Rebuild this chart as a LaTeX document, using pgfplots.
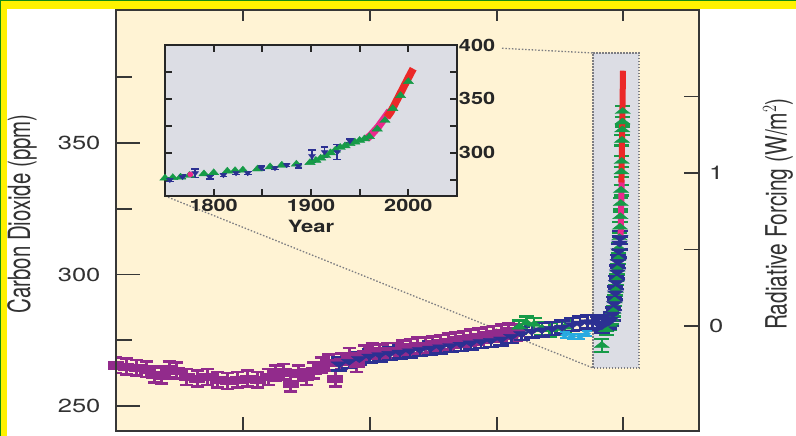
\documentclass[border=0pt]{standalone}
\usepackage{pgfplots}
\pgfplotsset{compat=1.18}
\usepackage{fontspec}
\setmainfont{TeX Gyre Heros}
\definecolor{beige}{RGB}{255,243,212}
\definecolor{insetgrey}{RGB}{220,221,228}
\definecolor{dotgrey}{RGB}{125,125,130}
\definecolor{frgreen}{RGB}{20,140,20}
\definecolor{axgrey}{RGB}{55,55,55}
\definecolor{txtgrey}{RGB}{50,50,50}
\definecolor{cpurple}{RGB}{146,43,140}
\definecolor{cblue}{RGB}{44,48,146}
\definecolor{cgreen}{RGB}{22,155,72}
\definecolor{ccyan}{RGB}{40,170,225}
\definecolor{cred}{RGB}{235,40,40}
\definecolor{cmag}{RGB}{236,40,140}

\pgfplotstableread{
x y e
10000 265.5 3
9800 265 3
9600 264.5 3
9400 264 3
9250 262 3
9100 261.5 3
8950 264 3
8800 263.5 3
8600 261 3
8400 260.5 3
8200 261 3
8000 260 3
7800 259.5 3
7600 260 3
7400 260.5 3
7200 260 3
7000 261 3
6850 262.5 3
6700 263 3
6550 258.5 3
6400 262.5 3
6250 261 3
6100 263.5 3
5950 265.5 3
5800 266.5 3
5680 260.5 3
5550 267 3
5400 269 3
5250 266 3
5100 270 3
4950 271 3
4800 270.5 3
4650 271 3
4500 271 3
4350 272 3
4200 272.5 3
4050 273 3
3900 273 3
3750 273.5 3
3600 274 3
3450 274.5 3
3300 275 3
3150 275.5 3
3000 276 3
2850 276.5 3
2700 277 3
2550 277.5 3
2400 278 3
2250 278.5 3
2100 278 3
}\purpledata

\pgfplotstableread{
x y e
5600 266 2.5
5400 267 2.5
5200 268 2.5
5000 269 2.5
4800 269.5 2.5
4600 270 2.5
4400 270.5 2.5
4200 271 2.5
4000 271.5 2.5
3800 272 2.5
3600 272.5 2.5
3400 273 2.5
3200 273.5 2.5
3000 274 2.5
2800 274.5 2.5
2600 275 2.5
2400 275.5 2.5
2200 276.5 2.5
2000 277.5 2.5
1800 278.5 2.5
1600 279 2.5
1400 279.5 2.5
1200 280 2.5
1000 281 2.5
850 281.5 2.5
700 282 2.5
600 282 2.5
500 281.5 2.5
420 280.5 2.5
340 281.5 2.5
280 282 2.5
240 283 2.5
200 285 2.5
170 289 2.5
150 293 2.5
130 297 2.5
112 301 2.5
96 305 2.5
82 309 2.5
68 312 2.5
55 314 2.5
}\bluedata

\pgfplotstableread{
x y e
2050 280 2.5
1900 281.5 2.5
1750 281 2.5
1600 279.5 2.5
1450 279 2.5
1300 279.5 2.5
1150 280 2.5
420 273 2.5
330 279 2
260 281 2
220 283 2
190 286 2
165 290 2
145 294 2
125 298 2
110 302 2
95 306 2
82 310 2
70 314 2
60 318 2
52 322 2
45 327 2
38 332 2
30 339 2
25 343 2
20 351 2
15 355 2
10 358 2
6 362 2
}\greendata

\pgfplotstableread{
x y e
1150 277 1
1000 276.5 1
850 276.5 1
720 277.5 1
}\cyandata

\pgfplotstableread{
x y e
1755 275 1.5
1768 277.7 1.5
1781 281.3 4
1796 277.7 2
1810 279.5 1.5
1823 281.3 1.5
1835 281.3 1.5
1849 286 2
1863 286 1.5
1875 288.8 1.5
1887 287.9 2
1901 297 5.5
1914 300.8 4.6
1927 300.8 7
1940 311 2
}\insetblue

\pgfplotstableread{
x y
1750 276.5
1758 277
1766 277.5
1775 279
1790 280.5
1800 281.5
1814 283
1822 283.5
1830 284
1845 285
1858 287
1870 288.5
1885 289.5
1899 291
1905 293
1910 295
1915 297.5
1920 300
1925 302.5
1930 305
1935 306.5
1940 308.5
1945 310
1950 311.5
1955 313
1960 315
1968 322
1976 330
1984 341
1992 353
2000 366
}\insetgreen

\begin{document}
\begin{tikzpicture}[x=1bp,y=1bp]
\useasboundingbox (0,0) rectangle (796,436);
\fill[white] (0,0) rectangle (796,436);
\fill[yellow] (0,427) rectangle (796,436);
\fill[yellow] (0,0) rectangle (7,436);
\fill[frgreen] (0,434.5) rectangle (796,436);
\fill[frgreen] (0,0) rectangle (1,436);
% main background
\fill[beige] (116,5) rectangle (699,426);
% highlight box and connecting lines
\filldraw[fill=insetgrey, draw=dotgrey, line width=1.5bp, dash pattern=on 1.5bp off 1.5bp] (593,68) rectangle (639,383);
\draw[dotgrey, line width=1.3bp, dash pattern=on 1.5bp off 1.8bp] (502,387.7) -- (593,383);
\draw[dotgrey, line width=1.3bp, dash pattern=on 1.5bp off 1.8bp] (165,240) -- (593,68);
% x ticks of the main axis (no labels)
\foreach \t in {243,370,497,623} {
  \draw[axgrey, line width=1.8bp] (\t,5) -- (\t,19);
  \draw[axgrey, line width=1.8bp] (\t,426) -- (\t,415);
}

% main axis, left scale with data
\begin{axis}[
  at={(116bp,5bp)}, anchor=south west,
  width=583bp, height=421bp, scale only axis,
  x dir=reverse, xmin=-1499, xmax=10000,
  ymin=240.5, ymax=400.6,
  axis line style={draw=axgrey, line width=1.8bp},
  xtick=\empty,
  ytick={250,300,350}, minor ytick={275,325,375},
  ytick pos=left, tick align=inside,
  major tick length=24bp, minor tick length=16bp,
  every tick/.style={draw=axgrey, line width=1.8bp},
  /pgf/number format/assume math mode=true,
  yticklabel style={font=\fontsize{19}{19}\selectfont, text=txtgrey, xscale=1.35, xshift=-8bp},
]
\addplot[only marks, mark=square*, mark size=3.6bp, color=cpurple,
  mark options={xscale=2.1, fill=cpurple, draw=cpurple},
  error bars/.cd, y dir=both, y explicit,
  error bar style={line width=3bp, color=cpurple},
  error mark options={rotate=90, mark size=6.5bp, line width=2.6bp, color=cpurple}]
  table[x=x, y=y, y error=e] {\purpledata};
\addplot[only marks, mark=triangle*, mark size=4bp, color=cgreen,
  mark options={xscale=2.2, fill=cgreen, draw=cgreen},
  error bars/.cd, y dir=both, y explicit,
  error bar style={line width=2.4bp, color=cgreen},
  error mark options={rotate=90, mark size=7.5bp, line width=2.4bp, color=cgreen}]
  table[x=x, y=y, y error=e] {\greendata};
\addplot[only marks, mark=triangle*, mark size=4bp, color=cblue,
  mark options={rotate=180, xscale=2.3, fill=cblue, draw=cblue},
  error bars/.cd, y dir=both, y explicit,
  error bar style={line width=2.4bp, color=cblue},
  error mark options={rotate=90, mark size=8bp, line width=2.4bp, color=cblue}]
  table[x=x, y=y, y error=e] {\bluedata};
\addplot[only marks, mark=diamond*, mark size=3bp, color=ccyan,
  mark options={xscale=1.8, fill=ccyan, draw=ccyan},
  error bars/.cd, y dir=both, y explicit,
  error bar style={line width=1.8bp, color=ccyan},
  error mark options={rotate=90, mark size=5bp, line width=1.8bp, color=ccyan}]
  table[x=x, y=y, y error=e] {\cyandata};
\addplot[cmag, line width=6bp, line cap=butt] coordinates {(47,314) (25,336)};
\addplot[cred, line width=6bp, line cap=butt] coordinates {(31,335) (0,377.5)};
\end{axis}

% main axis, right scale
\begin{axis}[
  at={(116bp,5bp)}, anchor=south west,
  width=583bp, height=421bp, scale only axis,
  x dir=reverse, xmin=-1499, xmax=10000,
  ymin=-0.686, ymax=2.065,
  axis line style={draw=axgrey, line width=1.8bp},
  xtick=\empty,
  ytick={0,1}, minor ytick={0.5,1.5}, ytick pos=right,
  tick align=inside,
  major tick length=15bp, minor tick length=15bp,
  every tick/.style={draw=axgrey, line width=1.8bp},
  /pgf/number format/assume math mode=true,
  yticklabel style={font=\fontsize{19}{19}\selectfont, text=txtgrey, xscale=1.35, xshift=4bp},
]
\addplot[draw=none] coordinates {(0,0)};
\end{axis}

% axis titles
\node[xscale=1.5, text=txtgrey, inner sep=0pt] at (22,222) {\rotatebox{90}{\fontsize{20.5}{20.5}\selectfont Carbon Dioxide (ppm)}};
\node[xscale=1.4, text=txtgrey, inner sep=0pt] at (778,222) {\rotatebox{90}{\fontsize{21}{21}\selectfont Radiative Forcing (W/m$^{2}$)}};

% inset
\begin{axis}[
  at={(165bp,240bp)}, anchor=south west,
  width=292bp, height=151bp, scale only axis,
  xmin=1750, xmax=2050, ymin=260, ymax=400,
  axis background/.style={fill=insetgrey},
  axis line style={draw=black!85, line width=1.8bp},
  xtick={1800,1900,2000}, minor xtick={1850,1950}, xtick pos=both, xticklabel pos=lower,
  ytick={300,350,400}, minor ytick={275,325,375}, ytick pos=both, yticklabel pos=right,
  tick align=inside,
  major tick length=7bp, minor tick length=7bp,
  every tick/.style={draw=black!85, line width=1.8bp},
  /pgf/number format/assume math mode=true,
  /pgf/number format/1000 sep={},
  xticklabel style={font=\bfseries\fontsize{17}{17}\selectfont, text=black!85, xscale=1.28},
  yticklabel style={font=\bfseries\fontsize{17}{17}\selectfont, text=black!85, xscale=1.28, xshift=-2bp},
  xlabel={Year},
  xlabel style={font=\bfseries\fontsize{17}{17}\selectfont, text=black!85, xscale=1.3, yshift=-1bp},
]
\addplot[only marks, mark=triangle*, mark size=4bp, color=cgreen,
  mark options={xscale=1.5, fill=cgreen, draw=cgreen}]
  table[x=x, y=y] {\insetgreen};
\addplot[only marks, mark=triangle*, mark size=2.8bp, color=cblue,
  mark options={rotate=180, xscale=1.4, fill=cblue, draw=cblue},
  error bars/.cd, y dir=both, y explicit,
  error bar style={line width=1.6bp, color=cblue},
  error mark options={rotate=90, mark size=3.8bp, line width=1.6bp, color=cblue}]
  table[x=x, y=y, y error=e] {\insetblue};
\addplot[only marks, mark=*, mark size=2.6bp, color=cmag] coordinates {(1776,280)};
\addplot[cmag, line width=7.5bp] coordinates {(1957,313) (1961,316) (1965,320) (1969,324) (1973,329) (1977,334) (1981,339)};
\addplot[cred, line width=7.5bp] coordinates {(1978,333) (1982,338) (1986,345) (1990,352) (1994,359) (1998,366) (2002,373) (2005,378)};
\end{axis}
\end{tikzpicture}
\end{document}
